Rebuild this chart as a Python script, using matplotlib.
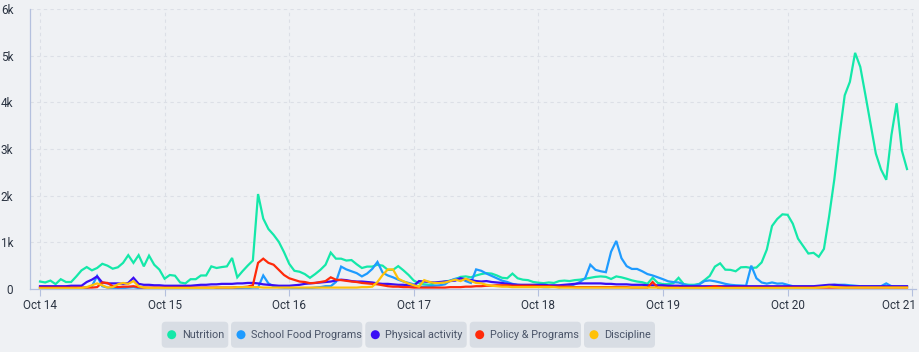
import numpy as np
import pandas as pd
import matplotlib
matplotlib.use('Agg')
import matplotlib.pyplot as plt
import matplotlib.dates as mdates
import matplotlib.transforms as mtransforms
from matplotlib.patches import FancyBboxPatch, Circle

plt.rcParams['font.family'] = ['Roboto', 'DejaVu Sans']

# hourly mentions, Oct 14 00:00 -> Oct 20 23:00 (one row per day)
hours = pd.date_range('2023-10-14 00:00', periods=168, freq='h')

nutrition = [
    160, 140, 180, 105, 210, 150, 150, 270, 400, 470, 400, 450, 540, 500, 435, 465, 560, 725, 560, 725, 485, 715, 520, 415,
    220, 300, 285, 140, 120, 210, 210, 290, 290, 485, 450, 470, 485, 665, 250, 380, 500, 610, 2035, 1510, 1285, 1160, 1010, 790,
    540, 390, 370, 320, 240, 320, 410, 520, 780, 650, 650, 610, 620, 530, 450, 480, 480, 520, 500, 410, 410, 490, 400, 300,
    180, 125, 100, 90, 120, 140, 160, 180, 210, 260, 270, 250, 290, 320, 340, 330, 290, 240, 230, 330, 230, 200, 190, 150,
    135, 125, 140, 130, 170, 180, 170, 190, 200, 220, 240, 260, 270, 260, 215, 270, 250, 220, 185, 160, 145, 112, 240, 130,
    104, 104, 125, 240, 104, 90, 90, 110, 190, 280, 480, 550, 414, 410, 380, 465, 470, 450, 460, 570, 846, 1350, 1500, 1600,
    1590, 1400, 1080, 920, 760, 775, 690, 860, 1560, 2350, 3300, 4150, 4440, 5060, 4760, 4150, 3520, 2900, 2560, 2340, 3300, 3980, 2970, 2570,
]
school_food = [
    20, 20, 20, 20, 20, 20, 20, 20, 20, 30, 60, 280, 60, 30, 20, 20, 20, 30, 40, 20, 20, 20, 20, 20,
    20, 20, 20, 20, 20, 20, 20, 20, 20, 20, 20, 20, 20, 20, 20, 20, 20, 30, 30, 290, 120, 60, 40, 30,
    30, 20, 20, 20, 20, 30, 40, 60, 60, 150, 480, 420, 380, 340, 270, 330, 430, 580, 350, 290, 250, 200, 160, 130,
    100, 50, 50, 60, 70, 80, 100, 180, 220, 230, 170, 130, 420, 390, 330, 280, 230, 180, 150, 110, 90, 80, 70, 60,
    50, 40, 40, 50, 40, 50, 60, 100, 150, 230, 520, 410, 380, 360, 800, 1030, 660, 490, 430, 430, 380, 320, 290, 250,
    210, 165, 148, 140, 100, 70, 75, 100, 170, 184, 165, 140, 110, 90, 80, 75, 70, 500, 230, 140, 115, 140, 115, 120,
    90, 60, 50, 50, 50, 50, 50, 60, 80, 90, 90, 90, 80, 70, 60, 55, 55, 55, 60, 120, 60, 50, 50, 50,
]
physical = [
    60, 60, 60, 60, 60, 60, 70, 70, 70, 150, 200, 270, 140, 120, 120, 120, 110, 130, 240, 110, 90, 90, 80, 80,
    70, 70, 70, 70, 70, 70, 80, 90, 90, 100, 100, 110, 110, 110, 120, 120, 130, 130, 120, 100, 90, 80, 70, 70,
    70, 80, 90, 110, 120, 130, 140, 150, 160, 180, 200, 190, 170, 160, 160, 150, 140, 120, 110, 110, 100, 90, 90, 80,
    70, 170, 160, 150, 140, 150, 160, 170, 180, 230, 210, 190, 170, 160, 170, 150, 140, 130, 110, 100, 90, 90, 90, 90,
    90, 90, 80, 80, 80, 90, 100, 110, 120, 120, 120, 120, 120, 110, 110, 100, 100, 100, 90, 90, 90, 80, 80, 80,
    80, 70, 70, 70, 60, 60, 60, 60, 60, 60, 60, 60, 60, 60, 60, 60, 60, 60, 60, 60, 60, 60, 60, 60,
    60, 60, 60, 60, 60, 60, 70, 80, 90, 90, 80, 70, 60, 60, 60, 60, 60, 60, 60, 60, 60, 60, 60, 60,
]
policy = [
    30, 30, 30, 30, 30, 30, 30, 30, 30, 30, 30, 40, 140, 130, 60, 40, 50, 50, 60, 40, 30, 30, 30, 30,
    30, 30, 30, 30, 30, 30, 30, 30, 30, 30, 30, 30, 30, 30, 40, 40, 50, 80, 560, 650, 560, 520, 410, 300,
    230, 195, 160, 150, 125, 130, 150, 170, 250, 200, 190, 175, 160, 150, 130, 120, 110, 100, 80, 60, 50, 50, 40, 40,
    30, 30, 30, 30, 30, 30, 30, 40, 40, 40, 50, 50, 60, 60, 70, 70, 80, 80, 80, 70, 70, 70, 70, 70,
    60, 60, 60, 50, 50, 50, 50, 40, 40, 40, 40, 40, 40, 40, 40, 40, 40, 40, 30, 30, 30, 30, 150, 30,
    30, 30, 30, 30, 30, 30, 30, 30, 30, 40, 60, 40, 30, 30, 30, 30, 30, 30, 30, 30, 30, 30, 30, 30,
    30, 30, 30, 30, 30, 30, 30, 30, 30, 30, 30, 30, 30, 30, 30, 30, 30, 30, 30, 30, 30, 30, 30, 30,
]
discipline = [
    15, 15, 15, 15, 15, 15, 15, 15, 20, 40, 80, 120, 80, 30, 40, 100, 130, 110, 170, 60, 30, 20, 20, 20,
    20, 20, 20, 20, 20, 20, 20, 20, 20, 20, 30, 30, 30, 30, 40, 40, 40, 40, 40, 30, 30, 30, 30, 30,
    30, 30, 30, 30, 30, 30, 30, 30, 30, 30, 30, 30, 30, 30, 40, 40, 50, 150, 300, 420, 420, 220, 165, 115,
    80, 50, 190, 150, 130, 130, 140, 170, 200, 170, 220, 170, 130, 120, 90, 70, 60, 50, 50, 40, 40, 40, 40, 40,
    40, 40, 40, 40, 30, 30, 30, 30, 30, 30, 30, 30, 30, 30, 30, 30, 30, 30, 30, 30, 30, 30, 30, 30,
    20, 20, 20, 20, 20, 20, 20, 20, 20, 20, 20, 20, 20, 20, 20, 20, 20, 20, 20, 20, 20, 20, 20, 20,
    20, 20, 20, 20, 20, 20, 30, 40, 50, 40, 30, 30, 30, 30, 30, 30, 30, 30, 30, 30, 30, 30, 30, 30,
]

series_names = ['Nutrition', 'School Food Programs', 'Physical activity', 'Policy & Programs', 'Discipline']
series_values = [nutrition, school_food, physical, policy, discipline]
colors = ['#14e8a9', '#1e9bff', '#3a0ef5', '#ff2a0a', '#ffc107']

y_ticks = [0, 1000, 2000, 3000, 4000, 5000, 6000]
y_labels = ['0', '1k', '2k', '3k', '4k', '5k', '6k']
x_ticks = pd.date_range('2023-10-14', '2023-10-21', freq='D')

BG = '#eff1f4'
TXT = '#2b3442'
AXIS = '#b4c0de'

fig = plt.figure(figsize=(9.19, 3.52), dpi=100)
fig.patch.set_facecolor(BG)
ax = fig.add_axes([30 / 919, 63 / 352, 886 / 919, 280 / 352])
ax.set_facecolor(BG)

for name, vals, c in zip(series_names, series_values, colors):
    ax.plot(hours, vals, color=c, lw=1.6, solid_joinstyle='miter', label=name)

x0 = mdates.date2num(pd.Timestamp('2023-10-14'))
ax.set_xlim(x0 - 10 / 124.6, x0 + 876 / 124.6)
ax.set_ylim(0, 6000)

ax.set_yticks(y_ticks)
ax.set_yticklabels(y_labels)
ax.set_xticks(x_ticks)
ax.set_xticklabels([d.strftime('%b %-d') for d in x_ticks])

ax.tick_params(axis='y', length=0, pad=12, labelsize=8.5, labelcolor=TXT)
ax.tick_params(axis='x', length=5, width=0.8, color=AXIS, pad=2, labelsize=8.5, labelcolor=TXT)
ax.grid(True, color='#dcdfe6', lw=0.8, ls=(0, (3, 3)))
ax.set_axisbelow(True)

# last date label sits flush with the right edge
last = ax.get_xticklabels()[-1]
last.set_horizontalalignment('right')
last.set_transform(last.get_transform() + mtransforms.ScaledTranslation(4 / 100, 0, fig.dpi_scale_trans))

for s in ['top', 'right']:
    ax.spines[s].set_visible(False)
for s in ['left', 'bottom']:
    ax.spines[s].set_color(AXIS)
    ax.spines[s].set_linewidth(0.9)

# legend pills under the chart (pixel positions)
pills = [(161.7, 228.3), (231, 362.3), (365.3, 466.7), (469.7, 581), (584, 655)]
tr = fig.dpi_scale_trans
for (xl, xr), name, c in zip(pills, series_names, colors):
    box = FancyBboxPatch((xl / 100, (352 - 347.7) / 100), (xr - xl) / 100, 26 / 100,
                         boxstyle='round,pad=0,rounding_size=0.04', transform=tr,
                         fc='#d8dde4', ec='none')
    fig.add_artist(box)
    fig.add_artist(Circle(((xl + 10) / 100, (352 - 334.7) / 100), 0.045, transform=tr,
                          fc=c, ec='none'))
    fig.text((xl + 20) / 100, (352 - 334.7) / 100, name, transform=tr, va='center', ha='left',
             fontsize=7.8, color='#4a5468')

fig.savefig('out.png', dpi=100, facecolor=BG)
